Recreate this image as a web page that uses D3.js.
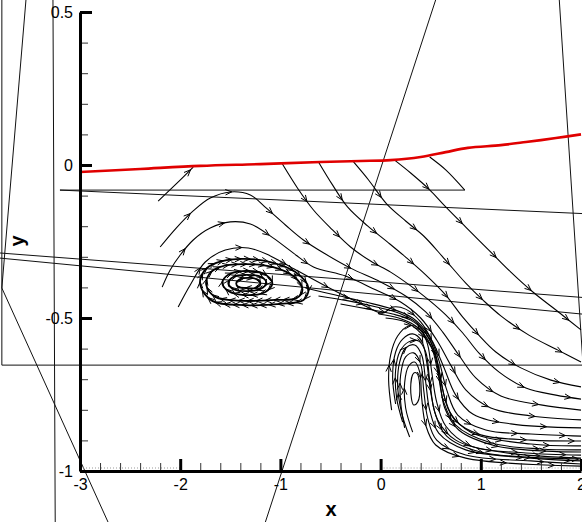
<!DOCTYPE html>
<html>
<head>
<meta charset="utf-8">
<script src="https://cdn.jsdelivr.net/npm/d3@7"></script>
<style>
  body { margin: 0; background: #fff; }
  svg { display: block; font-family: "Liberation Sans", Arial, sans-serif; }
</style>
</head>
<body>
<div id="chart"></div>
<script>
// tick values
const xMajorTicks = [-3, -2, -1, 0, 1, 2];
const yMajorTicks = [0.5, 0, -0.5, -1];

// red separation line near the wall
const separation = [[-3.00,-0.023],[-2.40,-0.013],[-1.80,-0.003],[-1.20,0.003],[-0.60,0.010],[-0.20,0.013],
  [0.10,0.016],[0.40,0.026],[0.65,0.042],[0.87,0.056],[1.20,0.065],[1.45,0.075],[1.75,0.088],[2.00,0.100]];

// streamlines, [x, y], in flow direction
const upLeft1 = [[-2.22,-0.118],[-2.04,-0.062],[-1.87,-0.007]];
const upLeft2 = [[-2.20,-0.268],[-2.04,-0.206],[-1.87,-0.150],[-1.70,-0.108],[-1.50,-0.088],[-1.30,-0.098],
  [-1.14,-0.141],[-0.95,-0.196],[-0.77,-0.245],[-0.55,-0.291],[-0.30,-0.337],[0.00,-0.382],[0.25,-0.428],
  [0.45,-0.480],[0.62,-0.546],[0.78,-0.621],[0.95,-0.696],[1.20,-0.755],[1.60,-0.784],[2.00,-0.801]];
const upLeft3 = [[-2.18,-0.399],[-2.10,-0.343],[-2.00,-0.294],[-1.87,-0.245],[-1.70,-0.206],[-1.50,-0.186],
  [-1.30,-0.193],[-1.07,-0.239],[-0.87,-0.288],[-0.67,-0.333],[-0.35,-0.363],[-0.05,-0.408],[0.20,-0.448],
  [0.40,-0.500],[0.56,-0.572],[0.70,-0.654],[0.85,-0.735],[1.10,-0.794],[1.50,-0.820],[2.00,-0.833]];
const upLeft4 = [[-2.02,-0.464],[-1.90,-0.392],[-1.75,-0.317],[-1.55,-0.278],[-1.32,-0.271],[-1.10,-0.297],
  [-0.90,-0.333],[-0.53,-0.399],[-0.17,-0.458],[0.02,-0.484],[0.12,-0.464],[0.25,-0.471],[0.40,-0.513],
  [0.52,-0.578],[0.63,-0.660],[0.75,-0.752],[0.92,-0.814],[1.30,-0.846],[2.00,-0.859]];
const fromWall1 = [[-0.98,0.003],[-0.83,-0.075],[-0.67,-0.147],[-0.48,-0.212],[-0.30,-0.268],[-0.10,-0.314],
  [0.10,-0.350],[0.30,-0.395],[0.48,-0.441],[0.65,-0.490],[0.82,-0.549],[0.98,-0.614],[1.18,-0.676],
  [1.45,-0.729],[1.75,-0.752],[2.00,-0.765]];
const fromWall2 = [[-0.62,0.010],[-0.48,-0.065],[-0.33,-0.137],[-0.13,-0.199],[0.07,-0.252],[0.25,-0.301],
  [0.45,-0.359],[0.65,-0.425],[0.82,-0.497],[0.98,-0.556],[1.15,-0.611],[1.40,-0.663],[1.70,-0.703],[2.00,-0.725]];
const fromWall3 = [[-0.27,0.010],[-0.12,-0.049],[0.06,-0.127],[0.25,-0.183],[0.43,-0.232],[0.63,-0.304],
  [0.85,-0.386],[1.02,-0.441],[1.20,-0.493],[1.48,-0.556],[1.77,-0.605],[2.00,-0.644]];
const fromWall4 = [[0.14,0.016],[0.30,-0.026],[0.48,-0.078],[0.65,-0.137],[0.85,-0.203],[1.08,-0.278],
  [1.30,-0.350],[1.52,-0.415],[1.75,-0.474],[2.00,-0.539]];
const fromWall5 = [[0.49,0.026],[0.65,-0.016],[0.84,-0.082]];
const wake1 = [[-0.75,-0.402],[-0.45,-0.425],[-0.15,-0.448],[0.12,-0.471],[0.32,-0.500],[0.48,-0.556],
  [0.58,-0.637],[0.66,-0.735],[0.77,-0.817],[1.05,-0.866],[1.50,-0.879],[2.00,-0.886]];
const wake2 = [[-0.62,-0.428],[-0.32,-0.444],[-0.04,-0.464],[0.18,-0.484],[0.36,-0.516],[0.50,-0.578],
  [0.58,-0.663],[0.64,-0.761],[0.74,-0.833],[1.00,-0.882],[1.50,-0.899],[2.00,-0.902]];
const wake3 = [[-0.40,-0.454],[-0.12,-0.471],[0.12,-0.487],[0.30,-0.507],[0.45,-0.549],[0.55,-0.621],
  [0.61,-0.719],[0.69,-0.807],[0.90,-0.873],[1.50,-0.912],[2.00,-0.918]];
const wake4 = [[-0.02,-0.487],[0.18,-0.500],[0.35,-0.526],[0.50,-0.588],[0.57,-0.676],[0.63,-0.775],
  [0.75,-0.850],[1.10,-0.908],[1.60,-0.928],[2.00,-0.931]];
const wake5 = [[0.05,-0.500],[0.25,-0.513],[0.40,-0.549],[0.53,-0.611],[0.59,-0.703],[0.64,-0.794],
  [0.78,-0.866],[1.15,-0.918],[1.65,-0.935],[2.00,-0.938]];
const curl1 = [[0.11,-0.801],[0.08,-0.703],[0.10,-0.621],[0.17,-0.559],[0.28,-0.526],[0.40,-0.536],[0.47,-0.588],
  [0.51,-0.676],[0.56,-0.775],[0.65,-0.853],[0.90,-0.918],[1.45,-0.941],[2.00,-0.948]];
const curl2 = [[0.15,-0.781],[0.12,-0.693],[0.15,-0.611],[0.22,-0.569],[0.32,-0.552],[0.41,-0.575],[0.46,-0.644],
  [0.50,-0.742],[0.57,-0.833],[0.75,-0.899],[1.20,-0.938],[2.00,-0.958]];
const curl3 = [[0.22,-0.840],[0.16,-0.761],[0.15,-0.670],[0.19,-0.611],[0.28,-0.578],[0.38,-0.575],[0.45,-0.611],
  [0.49,-0.703],[0.54,-0.807],[0.66,-0.886],[1.00,-0.938],[2.00,-0.961]];
const curl4 = [[0.29,-0.889],[0.21,-0.810],[0.17,-0.719],[0.19,-0.644],[0.25,-0.598],[0.34,-0.588],[0.41,-0.621],
  [0.45,-0.709],[0.49,-0.801],[0.58,-0.876],[0.85,-0.931],[1.50,-0.958],[2.00,-0.967]];
const curl5 = [[0.24,-0.859],[0.20,-0.775],[0.20,-0.686],[0.25,-0.627],[0.33,-0.614],[0.40,-0.650],[0.43,-0.735],
  [0.47,-0.827],[0.56,-0.899],[0.85,-0.948],[1.50,-0.967],[2.00,-0.977]];
const curl6 = [[0.32,-0.873],[0.25,-0.794],[0.24,-0.712],[0.28,-0.657],[0.34,-0.644],[0.39,-0.676],[0.41,-0.761],
  [0.45,-0.850],[0.55,-0.915],[0.85,-0.958],[2.00,-0.984]];

// closed loops: the eddy near x=-1.35 and the core of the eddy near x=0.35
const eddyOuter1 = [[-1.80,-0.392],[-1.76,-0.346],[-1.64,-0.320],[-1.40,-0.307],[-1.10,-0.317],[-0.85,-0.350],
  [-0.72,-0.402],[-0.77,-0.441],[-1.00,-0.454],[-1.35,-0.458],[-1.68,-0.444]];
const eddyOuter2 = [[-1.74,-0.392],[-1.71,-0.356],[-1.60,-0.333],[-1.37,-0.324],[-1.08,-0.333],[-0.86,-0.366],
  [-0.78,-0.408],[-0.84,-0.435],[-1.05,-0.441],[-1.37,-0.444],[-1.65,-0.431]];
const eddyMid1 = [[-1.58,-0.386],[-1.52,-0.359],[-1.35,-0.346],[-1.16,-0.356],[-1.08,-0.386],[-1.15,-0.415],
  [-1.35,-0.425],[-1.52,-0.412]];
const eddyMid2 = [[-1.52,-0.386],[-1.47,-0.366],[-1.34,-0.359],[-1.19,-0.366],[-1.14,-0.386],[-1.20,-0.405],
  [-1.34,-0.412],[-1.47,-0.405]];
const eddyInner = [[-1.44,-0.386],[-1.40,-0.373],[-1.31,-0.369],[-1.22,-0.376],[-1.20,-0.389],[-1.25,-0.402],
  [-1.34,-0.402],[-1.42,-0.399]];
const curlCore = [[0.33,-0.680],[0.30,-0.729],[0.33,-0.784],[0.37,-0.775],[0.39,-0.719],[0.36,-0.680]];

// thin construction lines left in the plot
const frameLines = [
  [[-3.535,0.556],[-3.78,-0.402],[-2.684,-1.193]],
  [[-3.78,0.556],[-3.78,-0.654],[2.10,-0.654]],
  [[-3.27,0.556],[-3.247,-1.193]],
  [[-3.90,-0.285],[2.10,-0.435]],
  [[-3.90,-0.301],[2.10,-0.490]],
  [[-3.20,-0.082],[2.10,-0.160]],
  [[-3.20,-0.082],[0.84,-0.082]],
  [[-1.176,-1.193],[0.566,0.556]],
  [[1.78,0.556],[2.03,-0.703]]
];

// x ranges where fine dotted marks sit on the bottom axis
const axisDotted = [[-3, -2], [0, 2]];

const openLines = [upLeft1, upLeft2, upLeft3, upLeft4, fromWall1, fromWall2, fromWall3, fromWall4,
  wake1, wake2, wake3, wake4, wake5, curl1, curl2, curl3, curl4, curl5, curl6];
const closedLoops = [eddyOuter1, eddyOuter2, eddyMid1, eddyMid2, eddyInner];

const width = 582, height = 522;

const x = d3.scaleLinear().domain([-3, 2]).range([80, 581]);
const y = d3.scaleLinear().domain([-1, 0.5]).range([471, 12]);

const svg = d3.select('#chart').append('svg')
    .attr('width', width)
    .attr('height', height);

const line = d3.line()
    .x(d => x(d[0]))
    .y(d => y(d[1]))
    .curve(d3.curveCatmullRom);
const loop = d3.line()
    .x(d => x(d[0]))
    .y(d => y(d[1]))
    .curve(d3.curveCatmullRomClosed);

// open "V" arrow heads along a path
function addArrows(g, node, spacing, offset) {
    const len = node.getTotalLength();
    for (let s = offset; s <= len - 1; s += spacing) {
        const p = node.getPointAtLength(s);
        const q = node.getPointAtLength(Math.max(0, s - 2));
        const a = Math.atan2(p.y - q.y, p.x - q.x);
        const L = 7, w = 0.4;
        const p1 = [p.x - L * Math.cos(a - w), p.y - L * Math.sin(a - w)];
        const p2 = [p.x - L * Math.cos(a + w), p.y - L * Math.sin(a + w)];
        g.append('path')
            .attr('d', 'M' + p1 + 'L' + p.x + ',' + p.y + 'L' + p2)
            .attr('fill', 'none')
            .attr('stroke', '#000')
            .attr('stroke-width', 1);
    }
}

// construction lines
svg.append('g').selectAll('path')
    .data(frameLines)
    .enter().append('path')
    .attr('d', d3.line().x(d => x(d[0])).y(d => y(d[1])))
    .attr('fill', 'none')
    .attr('stroke', '#111')
    .attr('stroke-width', 1);

// streamlines
const streams = svg.append('g');
openLines.forEach(pts => {
    const p = streams.append('path')
        .attr('d', line(pts))
        .attr('fill', 'none')
        .attr('stroke', '#000')
        .attr('stroke-width', 1.1);
    addArrows(streams, p.node(), 48, 45);
});
streams.append('path')
    .attr('d', line(fromWall5))
    .attr('fill', 'none')
    .attr('stroke', '#000')
    .attr('stroke-width', 1.1);

closedLoops.forEach(pts => {
    const p = streams.append('path')
        .attr('d', loop(pts))
        .attr('fill', 'none')
        .attr('stroke', '#000')
        .attr('stroke-width', 1.8);
    addArrows(streams, p.node(), 9, 4);
});
streams.append('path')
    .attr('d', loop(curlCore))
    .attr('fill', 'none')
    .attr('stroke', '#000')
    .attr('stroke-width', 1.1);

// red line
svg.append('path')
    .attr('d', line(separation))
    .attr('fill', 'none')
    .attr('stroke', '#e00000')
    .attr('stroke-width', 2.6);

// axes
const fmt = d => String(d);

svg.append('g').selectAll('line')
    .data(axisDotted)
    .enter().append('line')
    .attr('x1', d => x(d[0]))
    .attr('x2', d => x(d[1]))
    .attr('y1', y(-1) - 3)
    .attr('y2', y(-1) - 3)
    .attr('stroke', '#999')
    .attr('stroke-width', 1)
    .attr('stroke-dasharray', '1,2');

const yMinor = svg.append('g')
    .attr('transform', 'translate(' + x(-3) + ',0)')
    .call(d3.axisLeft(y)
        .tickValues(d3.range(-10, 6).map(v => v / 10).filter(v => Math.abs(v * 2 - Math.round(v * 2)) > 1e-6))
        .tickSizeInner(-8).tickSizeOuter(0).tickFormat(() => ''));
yMinor.select('.domain').remove();
yMinor.selectAll('line').attr('stroke', '#333').attr('stroke-width', 1);

const xMinor = svg.append('g')
    .attr('transform', 'translate(0,' + y(-1) + ')')
    .call(d3.axisBottom(x)
        .tickValues(d3.range(-15, 11).map(v => v / 5).filter(v => Math.abs(v - Math.round(v)) > 1e-6))
        .tickSizeInner(-8).tickSizeOuter(0).tickFormat(() => ''));
xMinor.select('.domain').remove();
xMinor.selectAll('line').attr('stroke', '#333').attr('stroke-width', 1);

const yAxis = svg.append('g')
    .attr('transform', 'translate(' + x(-3) + ',0)')
    .call(d3.axisLeft(y).tickValues(yMajorTicks)
        .tickSizeInner(-12).tickSizeOuter(0).tickPadding(7).tickFormat(fmt));

const xAxis = svg.append('g')
    .attr('transform', 'translate(0,' + y(-1) + ')')
    .call(d3.axisBottom(x).tickValues(xMajorTicks)
        .tickSizeInner(-12).tickSizeOuter(0).tickPadding(8).tickFormat(fmt));

[xAxis, yAxis].forEach(g => {
    g.attr('font-family', '"Liberation Sans", Arial, sans-serif').attr('font-size', 16);
    g.select('.domain').attr('stroke', '#000').attr('stroke-width', 3);
    g.selectAll('.tick line').attr('stroke', '#000').attr('stroke-width', 3);
    g.selectAll('.tick text').attr('fill', '#000');
});

// axis titles
svg.append('text')
    .attr('x', 331)
    .attr('y', 516)
    .attr('text-anchor', 'middle')
    .attr('font-size', 20)
    .attr('font-weight', 'bold')
    .text('x');

svg.append('text')
    .attr('transform', 'translate(24,241) rotate(-90)')
    .attr('text-anchor', 'middle')
    .attr('font-size', 20)
    .attr('font-weight', 'bold')
    .text('y');
</script>
</body>
</html>
